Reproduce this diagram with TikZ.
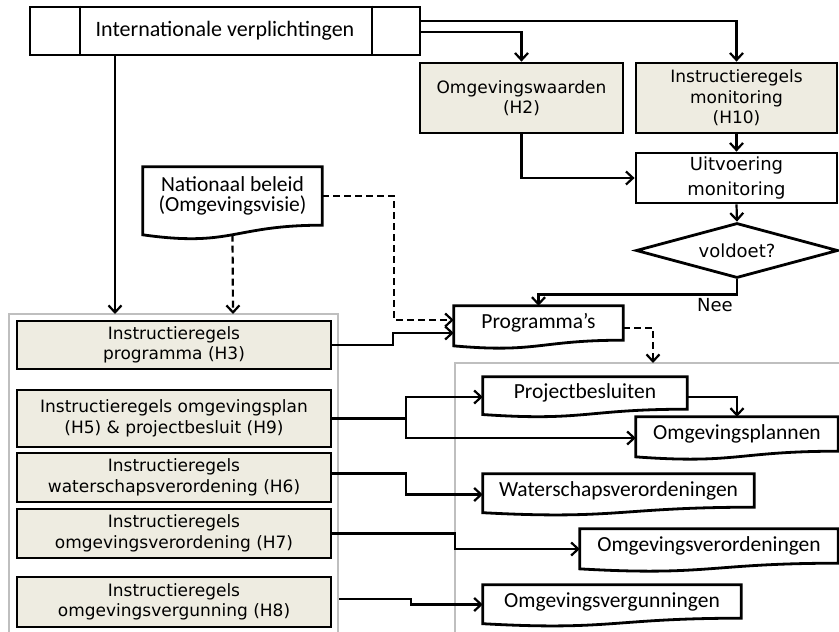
\documentclass[tikz,border=0pt]{standalone}
\usepackage{fontspec}
\newfontfamily\calf{Carlito}
\newfontfamily\dvs{DejaVu Sans}
\usetikzlibrary{arrows.meta,calc,shapes.geometric}
\definecolor{beige}{HTML}{EEECE1}
\definecolor{cgray}{HTML}{BFBFBF}
\newcommand{\docshape}[1]{\draw[docline] (#1.north west) -- (#1.north east) -- (#1.south east) .. controls (#1.south) and ($(#1.north)!1.381!(#1.south)$) .. ($(#1.north west)!1.1646!(#1.south west)$) -- cycle;}
\begin{document}
\begin{tikzpicture}[x=1pt,y=-1pt,
 box/.style={draw, line width=2.8pt, inner sep=0pt, align=center},
 beigebox/.style={box, fill=beige, font=\dvs\fontsize{17}{20.5}\selectfont},
 whitebox/.style={box, fill=white, font=\dvs\fontsize{18}{25}\selectfont},
 docnode/.style={inner sep=0pt, align=center, font=\calf\fontsize{21.5}{20.5}\selectfont},
 docline/.style={line width=2.8pt, line join=miter},
 conn/.style={line width=2.2pt, -{Straight Barb[length=7pt,width=13pt]}},
 dconn/.style={conn, dash pattern=on 7pt off 4pt},
 container/.style={draw=cgray, line width=2.2pt}]
\useasboundingbox (0,0) rectangle (839,632);

% containers
\draw[container] (9,645) -- (9,314) -- (338,314) -- (338,645);
\draw[container] (455,645) -- (455,363) -- (850,363);
\coordinate (ltop1) at (115,314);
\coordinate (ltop2) at (233,314);
\coordinate (rtop) at (653,363);

% top bar
\node[box, minimum width=390pt, minimum height=48pt, font=\calf\fontsize{22}{24}\selectfont] (intl) at (225,31) {Internationale verplichtingen};
\draw[line width=2.8pt] (80,0 |- intl.north) -- (80,0 |- intl.south);
\draw[line width=2.8pt] (372,0 |- intl.north) -- (372,0 |- intl.south);

% top right column
\node[beigebox, minimum width=203pt, minimum height=70pt] (ow) at (521.5,98) {Omgevingswaarden\\(H2)};
\node[beigebox, minimum width=201pt, minimum height=70pt] (mon) at (736.5,98) {Instructieregels\\monitoring\\(H10)};
\node[whitebox, minimum width=201pt, minimum height=50pt] (uit) at (736.5,178) {Uitvoering\\monitoring};
\node[diamond, draw, line width=2.8pt, minimum width=202pt, minimum height=55pt, aspect=3.7, inner sep=0pt, font=\dvs\fontsize{18}{22}\selectfont] (dia) at (737,250.5) {voldoet?};
\node[font=\dvs\fontsize{18}{22}\selectfont, inner sep=0pt] (nee) at (715,305) {Nee};

% documents
\node[docnode, minimum width=179pt, minimum height=58pt] (nb) at (232.5,196) {Nationaal beleid\\(Omgevingsvisie)};
\docshape{nb}
\node[docnode, minimum width=169pt, minimum height=34pt] (prog) at (538.5,323) {Programma’s};
\docshape{prog}

% left boxes
\node[beigebox, minimum width=314pt, minimum height=48pt] (h3) at (174,345) {Instructieregels\\programma (H3)};
\node[beigebox, minimum width=314pt, minimum height=57pt] (h5) at (174,418.5) {Instructieregels omgevingsplan\\(H5) \& projectbesluit (H9)};
\node[beigebox, minimum width=314pt, minimum height=49pt] (h6) at (174,477.5) {Instructieregels\\waterschapsverordening (H6)};
\node[beigebox, minimum width=314pt, minimum height=49pt] (h7) at (174,533.5) {Instructieregels\\omgevingsverordening (H7)};
\node[beigebox, minimum width=314pt, minimum height=50pt] (h8) at (174,602) {Instructieregels\\omgevingsvergunning (H8)};

% right documents
\node[docnode, minimum width=204pt, minimum height=32pt] (pb) at (585,393) {Projectbesluiten};
\docshape{pb}
\node[docnode, minimum width=202pt, minimum height=34pt] (op) at (737,434) {Omgevingsplannen};
\docshape{op}
\node[docnode, minimum width=271pt, minimum height=33pt] (ws) at (618.5,490.5) {Waterschapsverordeningen};
\docshape{ws}
\node[docnode, minimum width=258pt, minimum height=34pt] (ov) at (709,546) {Omgevingsverordeningen};
\docshape{ov}
\node[docnode, minimum width=258pt, minimum height=33pt] (vg) at (612,601.5) {Omgevingsvergunningen};
\docshape{vg}

% connectors top
\draw[conn] (intl.east |- 0,21) -| (mon.north);
\draw[conn] (intl.east |- 0,32) -| (ow.north);
\draw[conn] (intl.south -| ltop1) -- (ltop1);
\draw[conn] (mon.south) -- (uit.north);
\draw[conn] (ow.south) |- (uit.west);
\draw[conn] (uit.south) -- (dia.north);
\draw[conn] (dia.south) -- ++(0,15) -| (prog.north);

% nationaal beleid
\draw[dconn] ($(nb.north)!1.163!(nb.south)$) -- (ltop2);
\draw[dconn] (nb.east) -| ($(prog.west)+(-60,-3)$) -- ($(prog.west)+(0,-3)$);
\draw[conn] (h3.east) -| ($(prog.west)+(-61,10)$) -- ($(prog.west)+(0,10)$);
\draw[dconn] ($(prog.east)+(0,5)$) -| (rtop);

% left to right
\draw[conn] (h5.east) -| ($(pb.west)+(-77,4)$) -- ($(pb.west)+(0,4)$);
\draw[conn] (h5.east) -| ($(op.west)+(-230,4)$) -- ($(op.west)+(0,4)$);
\draw[conn] ($(pb.east)+(0,4)$) -| (op.north);
\draw[conn] ($(h6.east)+(0,-4)$) -| ($(ws.west)+(-77,4)$) -- ($(ws.west)+(0,4)$);
\draw[conn] (h7.east) -| ($(ov.west)+(-125,3)$) -- ($(ov.west)+(0,3)$);
\draw[conn] ($(h8.east)+(7,-3)$) -| ($(vg.west)+(-72,3)$) -- ($(vg.west)+(0,3)$);
\end{tikzpicture}
\end{document}
